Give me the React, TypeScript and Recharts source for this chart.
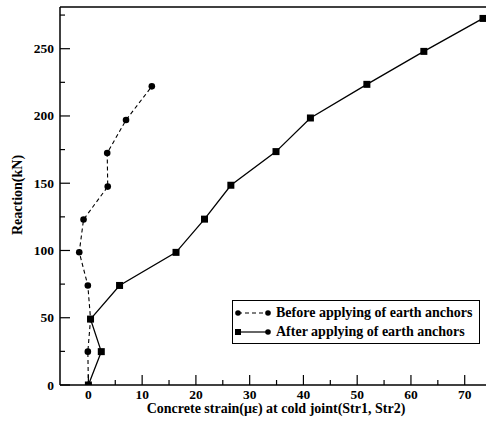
import React from "react";
import { LineChart, Line, XAxis, YAxis, ReferenceLine, Legend } from "recharts";

// strain (με) / reaction (kN) pairs
const beforeStrain = [0, -0.1, 0.4, -0.1, -1.7, -0.9, 3.6, 3.5, 7.0, 11.8];
const beforeReaction = [0, 24.8, 49, 74, 98.7, 123, 147.5, 172.4, 197, 222];
const afterStrain = [0, 2.4, 0.4, 5.8, 16.3, 21.6, 26.5, 34.9, 41.3, 51.8, 62.4, 73.4];
const afterReaction = [0, 24.8, 49, 74, 98.6, 123.3, 148.5, 173.5, 198.5, 223.5, 248, 272.5];

const xTicks = [0, 5, 10, 15, 20, 25, 30, 35, 40, 45, 50, 55, 60, 65, 70];
const yTicks = [0, 25, 50, 75, 100, 125, 150, 175, 200, 225, 250, 275];
const seriesNames = ["Before applying of earth anchors", "After applying of earth anchors"];

const X_DOMAIN: [number, number] = [-5.28, 73.96];
const Y_DOMAIN: [number, number] = [0, 281];
const FONT = "Liberation Serif, Times New Roman, DejaVu Serif, serif";

const beforeData = beforeStrain.map((x, i) => ({ x, y: beforeReaction[i] }));
const afterData = afterStrain.map((x, i) => ({ x, y: afterReaction[i] }));

function YTick(props: any) {
  const { x, y, payload } = props;
  const major = payload.value % 50 === 0;
  return (
    <g>
      <line x1={x} y1={y} x2={x + (major ? 10 : 5)} y2={y} stroke="#000" strokeWidth={1.2} />
      {major && (
        <text x={x - 6} y={y} dy={4.5} textAnchor="end" style={{ fontFamily: FONT }} fontWeight="bold" fontSize={13.5} fill="#000">
          {payload.value}
        </text>
      )}
    </g>
  );
}

function XTick(props: any) {
  const { x, y, payload } = props;
  const major = payload.value % 10 === 0;
  return (
    <g>
      <line x1={x} y1={y} x2={x} y2={y - (major ? 10 : 5)} stroke="#000" strokeWidth={1.2} />
      {major && (
        <text x={x} y={y} dy={14} textAnchor="middle" style={{ fontFamily: FONT }} fontWeight="bold" fontSize={13.5} fill="#000">
          {payload.value}
        </text>
      )}
    </g>
  );
}

function SquareDot(props: any) {
  const { cx, cy, index } = props;
  return <rect key={`sq-${index}`} x={cx - 3.5} y={cy - 3.5} width={7} height={7} fill="#000" />;
}

function CircleDot(props: any) {
  const { cx, cy, index } = props;
  return <circle key={`ci-${index}`} cx={cx} cy={cy} r={3.3} fill="#000" />;
}

function LegendBox() {
  const row = (i: number) => (
    <div key={i} style={{ display: "flex", alignItems: "center", height: 19 }}>
      <svg width={38} height={10} style={{ marginRight: 4 }}>
        <line x1={4} y1={5} x2={34} y2={5} stroke="#000" strokeWidth={1.2} strokeDasharray={i === 0 ? "4 3" : undefined} />
        {i === 0 ? <circle cx={4} cy={5} r={2.8} fill="#000" /> : <rect x={1} y={2} width={6} height={6} fill="#000" />}
        <circle cx={34} cy={5} r={2.8} fill="#000" />
      </svg>
      <span style={{ fontFamily: FONT, fontWeight: "bold", fontSize: 14, color: "#000", whiteSpace: "nowrap" }}>
        {seriesNames[i]}
      </span>
    </div>
  );
  return (
    <div style={{ border: "1.2px solid #000", background: "#fff", padding: "2px 6px 2px 1px", width: 248, boxSizing: "border-box" }}>
      {row(0)}
      {row(1)}
    </div>
  );
}

export default function App() {
  return (
    <div style={{ position: "absolute", left: 0, top: 0, width: 486, height: 423, background: "#fff" }}>
      <LineChart width={486} height={423} margin={{ top: 7, right: 0, bottom: 0, left: 0 }}>
        <XAxis
          type="number"
          dataKey="x"
          domain={X_DOMAIN}
          ticks={xTicks}
          allowDataOverflow
          height={38}
          tickSize={0}
          tickMargin={0}
          tickLine={false}
          tick={<XTick />}
          axisLine={{ stroke: "#000", strokeWidth: 1.5 }}
          label={() => (
            <text x={276} y={413} textAnchor="middle" style={{ fontFamily: FONT }} fontWeight="bold" fontSize={14} fill="#000">
              Concrete strain(με) at cold joint(Str1, Str2)
            </text>
          )}
        />
        <YAxis
          type="number"
          dataKey="y"
          domain={Y_DOMAIN}
          ticks={yTicks}
          allowDataOverflow
          width={60}
          tickSize={0}
          tickMargin={0}
          tickLine={false}
          tick={<YTick />}
          axisLine={{ stroke: "#000", strokeWidth: 1.5 }}
          label={() => (
            <text x={22} y={195} transform="rotate(-90 22 195)" textAnchor="middle" style={{ fontFamily: FONT }} fontWeight="bold" fontSize={14} fill="#000">
              Reaction(kN)
            </text>
          )}
        />
        <ReferenceLine y={Y_DOMAIN[1]} stroke="#000" strokeWidth={1.5} />
        <Line
          data={beforeData}
          dataKey="y"
          name={seriesNames[0]}
          stroke="#000"
          strokeWidth={1.1}
          strokeDasharray="4 3"
          dot={CircleDot}
          isAnimationActive={false}
        />
        <Line
          data={afterData}
          dataKey="y"
          name={seriesNames[1]}
          stroke="#000"
          strokeWidth={1.3}
          dot={SquareDot}
          isAnimationActive={false}
        />
        <Legend
          layout="vertical"
          align="center"
          verticalAlign="middle"
          content={() => <LegendBox />}
          wrapperStyle={{ left: 232, top: 300, width: 248 }}
        />
      </LineChart>
    </div>
  );
}
